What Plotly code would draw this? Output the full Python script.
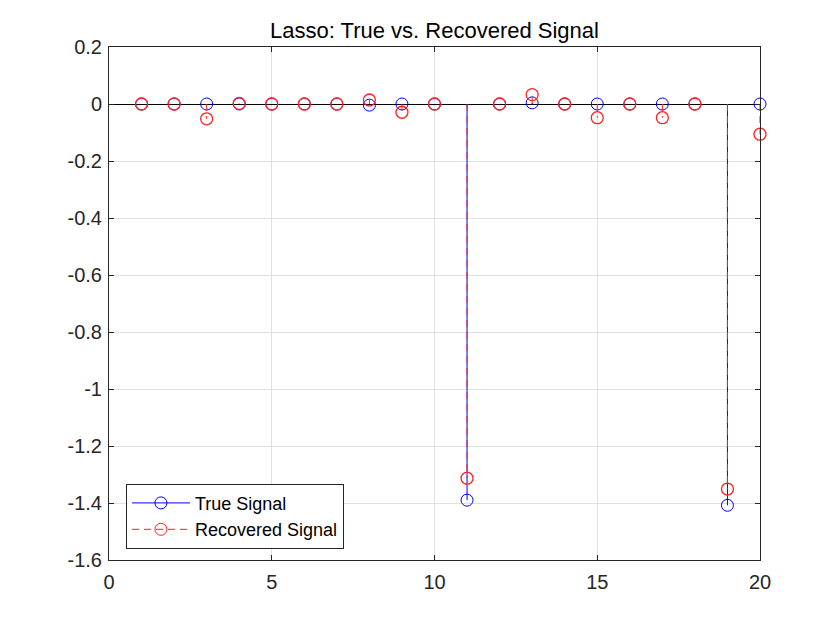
import plotly.graph_objects as go

x_idx = list(range(1, 21))
true_signal = [0, 0, 0, 0, 0, 0, 0, -0.004, 0, 0,
               -1.39, 0, 0.004, 0, 0, 0, 0, 0, -1.408, 0]
recovered_signal = [0, 0, -0.052, 0.002, 0, 0, 0, 0.014, -0.029, 0,
                    -1.313, 0, 0.033, 0, -0.048, 0, -0.048, 0, -1.351, -0.106]
x_ticks = [0, 5, 10, 15, 20]
y_ticks = [0.2, 0, -0.2, -0.4, -0.6, -0.8, -1.0, -1.2, -1.4, -1.6]
y_tick_labels = ["0.2", "0", "-0.2", "-0.4", "-0.6", "-0.8", "-1", "-1.2", "-1.4", "-1.6"]
title_text = "Lasso: True vs. Recovered Signal"
series_names = ["True Signal", "Recovered Signal"]

FONT = "Liberation Sans, Arial, sans-serif"
AX = "#262626"


def stems(xs, ys):
    sx, sy = [], []
    for a, b in zip(xs, ys):
        sx += [a, a, None]
        sy += [0, b, None]
    return sx, sy


fig = go.Figure()

specs = [
    (true_signal, "#0000FF", "solid", series_names[0], 1.0),
    (recovered_signal, "#FF2020", "7px,5px", series_names[1], 1.3),
]
for vals, col, dash, name, mlw in specs:
    sx, sy = stems(x_idx, vals)
    fig.add_trace(go.Scatter(x=sx, y=sy, mode="lines",
                             line=dict(color=col, width=1, dash=dash),
                             showlegend=False, hoverinfo="skip"))
    fig.add_trace(go.Scatter(x=x_idx, y=vals, mode="markers", cliponaxis=False,
                             marker=dict(symbol="circle-open", size=12,
                                         color=col, line=dict(width=mlw, color=col)),
                             showlegend=False, hoverinfo="skip"))

# legend-only entries
for vals, col, dash, name, mlw in specs:
    fig.add_trace(go.Scatter(x=[None], y=[None], mode="lines+markers", name=name,
                             line=dict(color=col, width=1, dash=dash),
                             marker=dict(symbol="circle-open", size=12,
                                         color=col, line=dict(width=1, color=col))))

axis_common = dict(
    showline=True, linecolor=AX, linewidth=1, mirror="allticks",
    ticks="inside", ticklen=5, tickcolor=AX, tickwidth=1,
    showgrid=True, gridcolor="#e0e0e0", gridwidth=1,
    tickfont=dict(family=FONT, size=20, color=AX),
)

fig.update_layout(
    width=840, height=630,
    paper_bgcolor="white", plot_bgcolor="white",
    margin=dict(l=101, r=88, t=39, b=78),
    font=dict(family=FONT, color=AX),
    xaxis=dict(range=[0, 20], tickvals=x_ticks, zeroline=False,
               ticklabelstandoff=4, **axis_common),
    yaxis=dict(range=[-1.6, 0.2], tickvals=y_ticks, ticktext=y_tick_labels,
               zeroline=True, zerolinecolor="#000000", zerolinewidth=1,
               ticklabelstandoff=2, **axis_common),
    legend=dict(x=0.026, y=0.022, xanchor="left", yanchor="bottom",
                bgcolor="white", bordercolor=AX, borderwidth=1,
                font=dict(family=FONT, size=18, color="#000000"),
                itemwidth=58, tracegroupgap=0),
    annotations=[dict(text=title_text, x=0.5, y=1, xref="paper", yref="paper",
                      xanchor="center", yanchor="bottom", yshift=2,
                      showarrow=False,
                      font=dict(family=FONT, size=22, color="#000000"))],
    hovermode=False,
)

fig.write_html("out.html")
